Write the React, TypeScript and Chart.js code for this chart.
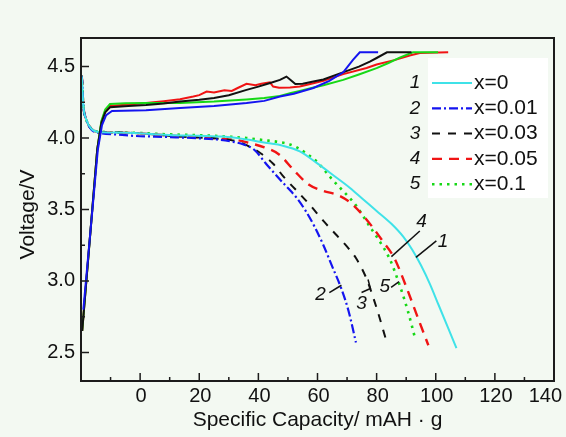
import React, { useEffect, useRef } from 'react';
import { Chart, registerables } from 'chart.js';

Chart.register(...registerables);

// ---------- data ----------
const seriesNumbers = ['1', '2', '3', '4', '5'];
const seriesNames = ['x=0', 'x=0.01', 'x=0.03', 'x=0.05', 'x=0.1'];
const seriesColors = ['#3fe2e8', '#1414f0', '#111111', '#f01414', '#16d816'];
const seriesDashes: number[][] = [[], [9, 3, 2, 3], [8, 8], [10, 7], [2.5, 5]];
const seriesWidths = [2, 2.2, 2, 2.4, 2.6];

const xTickValues = [0, 20, 40, 60, 80, 100, 120, 140];
const yTickValues = [2.5, 3.0, 3.5, 4.0, 4.5];
const xMinorValues = [-10, 10, 30, 50, 70, 90, 110, 130];
const yMinorValues = [2.75, 3.25, 3.75, 4.25];

const xTitle = 'Specific Capacity/ mAH · g';
const yTitle = 'Voltage/V';

// discharge curves
const disX1 = [-20, -19.6, -19.3, -18.2, -16.5, -13.6, -8, -2, 5, 12, 20, 28, 36, 43, 48, 54, 59.7, 65, 71, 75.4, 80, 85, 89, 92, 95, 98, 101, 104, 107];
const disV1 = [4.44, 4.40, 4.25, 4.13, 4.065, 4.042, 4.038, 4.035, 4.027, 4.02, 4.016, 4.01, 3.99, 3.965, 3.948, 3.907, 3.826, 3.745, 3.651, 3.572, 3.49, 3.40, 3.31, 3.22, 3.11, 2.98, 2.83, 2.68, 2.53];

const disX2 = [-20, -19.6, -19.3, -18.2, -16.5, -13.6, -8, -2, 5, 12, 20, 26, 31, 35, 38.5, 42.8, 47.3, 50, 53, 56, 59, 62, 65, 68, 70.5, 73];
const disV2 = [4.44, 4.40, 4.25, 4.13, 4.06, 4.035, 4.025, 4.015, 4.01, 4.005, 3.998, 3.99, 3.975, 3.955, 3.92, 3.815, 3.71, 3.65, 3.58, 3.49, 3.38, 3.25, 3.10, 2.95, 2.79, 2.57];

const disX3 = [-20, -19.6, -19.3, -18.2, -16.5, -13.6, -8, -2, 5, 12, 20, 27, 32, 36, 41, 45, 48.5, 53.5, 57.5, 62, 66, 70, 73, 76.5, 80, 83.3];
const disV3 = [4.44, 4.40, 4.25, 4.13, 4.065, 4.042, 4.04, 4.035, 4.025, 4.012, 4.003, 3.995, 3.98, 3.95, 3.89, 3.82, 3.73, 3.62, 3.53, 3.42, 3.33, 3.24, 3.16, 3.02, 2.81, 2.58];

const disX4 = [-20, -19.6, -19.3, -18.2, -16.5, -13.6, -8, -2, 5, 12, 20, 27, 33, 37, 42, 47, 52, 57, 62, 67, 71, 74.5, 78.5, 82, 86, 90, 94, 97.5];
const disV4 = [4.44, 4.40, 4.25, 4.13, 4.065, 4.042, 4.038, 4.035, 4.025, 4.015, 4.005, 3.995, 3.985, 3.965, 3.935, 3.885, 3.775, 3.675, 3.63, 3.60, 3.55, 3.48, 3.38, 3.28, 3.16, 2.96, 2.74, 2.55];

const disX5 = [-20, -19.6, -19.3, -18.2, -16.5, -13.6, -8, -2, 5, 12, 20, 28, 36, 42, 46, 50, 53, 56, 60, 65, 70, 73, 77.7, 80, 84.5, 87.8, 90.7, 93];
const disV5 = [4.44, 4.40, 4.25, 4.13, 4.065, 4.045, 4.04, 4.037, 4.03, 4.024, 4.02, 4.012, 4.0, 3.985, 3.975, 3.96, 3.935, 3.895, 3.83, 3.71, 3.60, 3.53, 3.38, 3.31, 3.15, 2.97, 2.78, 2.60];

// charge curves (solid)
const chgX2 = [-19.2, -14.3, -12.9, -11.5, -9.5, 2, 13.5, 25, 36, 42, 47.3, 52, 58.6, 64, 68.7, 72, 74.3, 80.5];
const chgV2 = [2.80, 3.92, 4.09, 4.16, 4.19, 4.195, 4.21, 4.225, 4.245, 4.26, 4.29, 4.31, 4.35, 4.40, 4.46, 4.547, 4.60, 4.60];

const chgX3 = [-19.6, -14.5, -13.1, -11.8, -10.2, -4, 2, 8, 13.5, 20, 25, 30, 36, 40, 44, 47.3, 49.5, 51, 52.5, 55, 58.6, 62, 66, 70, 74, 77.7, 80, 83.5, 91.8];
const chgV3 = [2.65, 3.92, 4.105, 4.18, 4.215, 4.225, 4.232, 4.242, 4.256, 4.268, 4.28, 4.30, 4.337, 4.36, 4.385, 4.407, 4.43, 4.405, 4.378, 4.38, 4.395, 4.41, 4.44, 4.47, 4.50, 4.535, 4.56, 4.60, 4.60];

const chgX4 = [-19.6, -14.5, -13.1, -11.8, -10.2, -4, 2, 8, 13.5, 18, 20, 22.5, 25, 28.5, 31, 33, 36, 39, 41, 43.9, 45, 47, 50.7, 54, 58.6, 62, 68.7, 76.6, 80, 86, 91.2, 94.6, 104.2];
const chgV4 = [2.65, 3.92, 4.11, 4.19, 4.225, 4.235, 4.245, 4.258, 4.272, 4.29, 4.30, 4.325, 4.318, 4.335, 4.33, 4.35, 4.38, 4.37, 4.38, 4.39, 4.36, 4.352, 4.353, 4.36, 4.384, 4.40, 4.447, 4.49, 4.515, 4.545, 4.577, 4.595, 4.60];

const chgX5 = [-19.6, -14.5, -13.1, -11.8, -10.2, -5, 2, 13.5, 25, 36, 42, 47.3, 51, 54, 58, 62, 68.7, 74, 80, 84, 87.8, 92.3, 100.8];
const chgV5 = [2.65, 3.92, 4.12, 4.20, 4.238, 4.243, 4.245, 4.245, 4.255, 4.27, 4.28, 4.295, 4.315, 4.33, 4.35, 4.37, 4.407, 4.445, 4.489, 4.525, 4.563, 4.60, 4.60];

// curve labels (number, label position, leader polyline) in data units
const annoText = ['4', '1', '2', '3', '5'];
const annoTextX = [95.2, 102.5, 61, 74.9, 82.8];
const annoTextV = [3.418, 3.272, 2.907, 2.844, 2.96];
const annoLineX = [[85, 94.6], [93.3, 100.2], [64, 68.1], [74.9, 77.9, 77.1], [84.9, 87.6]];
const annoLineV = [[3.17, 3.35], [3.165, 3.28], [2.918, 2.97], [2.919, 2.947, 3.01], [2.955, 2.995]];

const FONT = '"Liberation Sans", Arial, Helvetica, sans-serif';

const toPts = (xs: number[], vs: number[]) => xs.map((x, i) => ({ x, y: vs[i] }));

const decorPlugin = {
  id: 'decor',
  beforeDraw(chart: any) {
    const { ctx, width, height } = chart;
    ctx.save();
    ctx.fillStyle = '#f3f9f2';
    ctx.fillRect(0, 0, width, height);
    ctx.restore();
  },
  afterDatasetsDraw(chart: any) {
    const { ctx, chartArea: ca, scales, width } = chart;
    const xs = scales.x;
    const ys = scales.y;
    ctx.save();

    // legend box
    ctx.fillStyle = '#ffffff';
    ctx.fillRect(ca.right - 126, ca.top + 20, 120, 140);
    for (let i = 0; i < seriesNames.length; i++) {
      const cy = ca.top + 45 + i * 25.3;
      ctx.font = `italic 19px ${FONT}`;
      ctx.fillStyle = '#111';
      ctx.textAlign = 'center';
      ctx.textBaseline = 'middle';
      ctx.fillText(seriesNumbers[i], ca.right - 139, cy);
      ctx.strokeStyle = seriesColors[i];
      ctx.lineWidth = seriesWidths[i];
      ctx.setLineDash(seriesDashes[i]);
      ctx.beginPath();
      ctx.moveTo(ca.right - 122, cy);
      ctx.lineTo(ca.right - 82, cy);
      ctx.stroke();
      ctx.setLineDash([]);
      ctx.font = `21px ${FONT}`;
      ctx.fillStyle = '#111';
      ctx.textAlign = 'left';
      ctx.fillText(seriesNames[i], ca.right - 80, cy);
    }

    // curve labels
    ctx.strokeStyle = '#111';
    ctx.lineWidth = 1.5;
    ctx.setLineDash([]);
    for (let i = 0; i < annoText.length; i++) {
      ctx.beginPath();
      annoLineX[i].forEach((x, j) => {
        const px = xs.getPixelForValue(x);
        const py = ys.getPixelForValue(annoLineV[i][j]);
        if (j === 0) ctx.moveTo(px, py);
        else ctx.lineTo(px, py);
      });
      ctx.stroke();
      ctx.font = `italic 19px ${FONT}`;
      ctx.fillStyle = '#111';
      ctx.textAlign = 'center';
      ctx.textBaseline = 'middle';
      ctx.fillText(annoText[i], xs.getPixelForValue(annoTextX[i]), ys.getPixelForValue(annoTextV[i]));
    }

    // frame
    ctx.strokeStyle = '#1c1c1c';
    ctx.lineWidth = 2;
    ctx.strokeRect(ca.left, ca.top, ca.right - ca.left, ca.bottom - ca.top);

    // inward ticks
    ctx.lineWidth = 1.5;
    ctx.beginPath();
    xTickValues.forEach((v) => {
      const px = xs.getPixelForValue(v);
      ctx.moveTo(px, ca.bottom);
      ctx.lineTo(px, ca.bottom - 8);
    });
    xMinorValues.forEach((v) => {
      const px = xs.getPixelForValue(v);
      ctx.moveTo(px, ca.bottom);
      ctx.lineTo(px, ca.bottom - 4);
    });
    yTickValues.forEach((v) => {
      const py = ys.getPixelForValue(v);
      ctx.moveTo(ca.left, py);
      ctx.lineTo(ca.left + 8, py);
    });
    yMinorValues.forEach((v) => {
      const py = ys.getPixelForValue(v);
      ctx.moveTo(ca.left, py);
      ctx.lineTo(ca.left + 4, py);
    });
    ctx.stroke();

    // x tick labels (kept inside the canvas)
    ctx.font = `20px ${FONT}`;
    ctx.fillStyle = '#111';
    ctx.textAlign = 'center';
    ctx.textBaseline = 'middle';
    xTickValues.forEach((v) => {
      const label = String(v);
      const w = ctx.measureText(label).width;
      const px = Math.min(xs.getPixelForValue(v) + 1, width - 4 - w / 2);
      ctx.fillText(label, px, ca.bottom + 15);
    });

    // y axis title
    ctx.translate(28, (ca.top + ca.bottom) / 2 + 5);
    ctx.rotate(-Math.PI / 2);
    ctx.font = `21px ${FONT}`;
    ctx.textAlign = 'center';
    ctx.textBaseline = 'middle';
    ctx.fillText(yTitle, 0, 0);
    ctx.restore();
  },
};

export default function App() {
  const canvasRef = useRef<HTMLCanvasElement | null>(null);

  useEffect(() => {
    const canvas = canvasRef.current;
    if (!canvas) return;

    const discharge = [
      [disX1, disV1],
      [disX2, disV2],
      [disX3, disV3],
      [disX4, disV4],
      [disX5, disV5],
    ];
    const charge: [number, number[], number[]][] = [
      [1, chgX2, chgV2],
      [2, chgX3, chgV3],
      [4, chgX5, chgV5],
      [3, chgX4, chgV4],
    ];

    const datasets: any[] = [];
    charge.forEach(([idx, xs, vs]) => {
      datasets.push({
        label: seriesNames[idx] + ' charge',
        data: toPts(xs, vs),
        borderColor: seriesColors[idx],
        borderWidth: 2,
        pointRadius: 0,
        tension: 0,
        fill: false,
      });
    });
    discharge.forEach(([xs, vs], i) => {
      datasets.push({
        label: seriesNames[i],
        data: toPts(xs, vs),
        borderColor: seriesColors[i],
        borderWidth: seriesWidths[i],
        borderDash: seriesDashes[i],
        pointRadius: 0,
        cubicInterpolationMode: 'monotone',
        fill: false,
      });
    });

    const noPad = (s: any) => {
      s.paddingLeft = 0;
      s.paddingRight = 0;
      s.paddingTop = 0;
      s.paddingBottom = 0;
    };

    const chart = new Chart(canvas, {
      type: 'line',
      data: { datasets },
      plugins: [decorPlugin],
      options: {
        animation: false,
        responsive: false,
        maintainAspectRatio: false,
        layout: { padding: { left: 0, right: 12, top: 38, bottom: 0 } },
        plugins: {
          legend: { display: false },
          tooltip: { enabled: false },
          title: { display: false },
        },
        scales: {
          x: {
            type: 'linear',
            min: -20,
            max: 140,
            grid: { display: false, drawTicks: false },
            border: { display: false },
            afterFit: (s: any) => {
              s.height = 56;
              noPad(s);
            },
            afterBuildTicks: (s: any) => {
              s.ticks = xTickValues.map((v) => ({ value: v }));
            },
            ticks: { display: false },
            title: {
              display: true,
              text: xTitle,
              color: '#111',
              font: { family: FONT, size: 21 },
              padding: { top: 0, bottom: 4 },
            },
          },
          y: {
            type: 'linear',
            min: 2.3,
            max: 4.7,
            grid: { display: false, drawTicks: false },
            border: { display: false },
            afterFit: (s: any) => {
              s.width = 81;
              noPad(s);
            },
            afterBuildTicks: (s: any) => {
              s.ticks = yTickValues.map((v) => ({ value: v }));
            },
            ticks: {
              padding: 6,
              color: '#111',
              font: { family: FONT, size: 20 },
              callback: (v: any) => Number(v).toFixed(1),
            },
          },
        },
      },
    });

    return () => {
      chart.destroy();
    };
  }, []);

  return (
    <div style={{ position: 'absolute', left: 0, top: 0, width: 566, height: 437 }}>
      <canvas ref={canvasRef} width={566} height={437} style={{ display: 'block' }} />
    </div>
  );
}
